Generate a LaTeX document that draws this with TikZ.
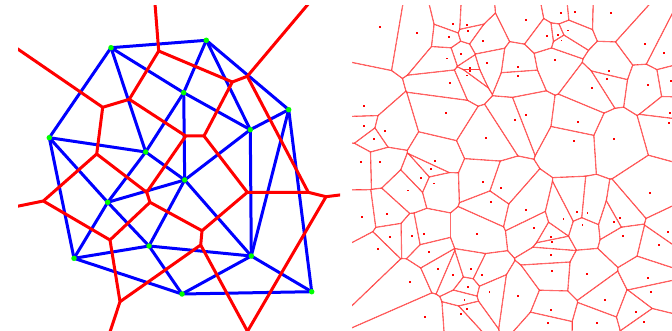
\documentclass[tikz,border=0pt]{standalone}
\usepackage{tikz}

\tikzset{
  delaunay/.style={blue, line width=3pt, line cap=round},
  voronoi/.style={red, line width=3pt, line cap=round, line join=round},
  site/.style={circle, fill=green, inner sep=0pt, minimum size=5.5pt},
  cell/.style={red!75, line width=1.1pt}
}
% seeds of the right diagram (pixel coordinates)
\def\seeds{380/26.7, 417/33, 453.3/24, 466.7/24.7, 468/30.7, 448.7/36.7, 482.7/41.3, 460.7/54, 447.3/58.5, 487/63,
  470/68.2, 470/71, 466.7/75.5, 450/82.7, 525.7/20, 517.7/67.3, 518.3/75.7, 561/13.2, 575.2/11.8, 610.7/12.7,
  547.3/36.2, 558/34.8, 567.7/30.5, 561.5/40.5, 554.7/60, 645/43.7, 663.7/53.3, 608.7/70.7, 606.7/79, 592/88.3,
  647.7/84.7, 670.7/80.7, 363.7/106.3, 364.3/125.7, 385.3/131, 374/138.7, 361.2/162.2, 380.3/161.7, 446/112.7, 514.7/119.7,
  526/115.3, 486.3/138, 578/122, 574/141.3, 614.3/138.7, 670/112.7, 668.7/123.3, 434.7/161, 431/169,
  421.2/177.8, 434.2/183.5, 408/190.5, 483.3/182, 500.7/188, 491/202, 386.7/214, 361.7/217.3, 390.3/236.7, 412.3/236.3,
  424.3/234, 476.7/234, 525.7/210, 534.3/227.7, 550.7/237.3, 551.7/242.2, 563.5/219, 577/212, 587.5/213, 582.5/225,
  649.7/193, 620.3/218.3, 614.3/221.7, 622.7/236, 668/231.7, 659/244.7, 378.3/249, 428.7/252.3, 550.7/255, 438.3/269,
  452.7/275.2, 471/269.3, 482/274.7, 409.7/281.7, 467.8/286.8, 489.5/292.3, 517.7/296.3, 551.7/271.3, 586.7/274, 648/278.3,
  651/292.3, 464.5/299.8, 466.7/308.8, 460.8/314.2, 425/316.7, 550.7/309.7, 605.3/299.7, 636.3/311.7, 643.7/322.3, 547.7/323,
  596.7/322.7}

\begin{document}
\begin{tikzpicture}[x=1pt,y=-1pt]
  \useasboundingbox (0,0) rectangle (672,331);

  % left: sites
  \coordinate (A) at (111,47.7); \coordinate (B) at (206.3,40.3); \coordinate (C) at (183.7,92.7); \coordinate (D) at (288.7,109.7);
  \coordinate (E) at (250.3,129.7); \coordinate (F) at (49.3,137.7); \coordinate (G) at (145.7,152); \coordinate (H) at (184.7,180);
  \coordinate (I) at (107.7,202.3); \coordinate (J) at (149,246); \coordinate (K) at (74,258.3); \coordinate (L) at (251.3,256);
  \coordinate (M) at (182,294); \coordinate (N) at (311.7,291.7);
  % left: vertices of the cells
  \coordinate (v1) at (158.7,51); \coordinate (v2) at (232.3,82); \coordinate (v3) at (247.3,76.3); \coordinate (v4) at (204,136);
  \coordinate (v5) at (185.7,136); \coordinate (v6) at (247.3,192.3); \coordinate (v7) at (146.7,192.3); \coordinate (v8) at (308.3,192.3);
  \coordinate (v9) at (202,230.7); \coordinate (v10) at (326,196.7); \coordinate (v11) at (150,202.3); \coordinate (v12) at (96.7,154);
  \coordinate (v13) at (110,240); \coordinate (v14) at (200.7,245); \coordinate (v15) at (120,301.7); \coordinate (v16) at (102.7,107.3);
  \coordinate (v17) at (43.3,201); \coordinate (v18) at (129.3,99.3); \coordinate (vb) at (247.5,331.3);
  \coordinate (r1) at (154.7,0); \coordinate (r3) at (311.6,0); \coordinate (r10) at (346,194.2); \coordinate (rb) at (247.7,340);
  \coordinate (r15) at (107.3,340); \coordinate (r17) at (10,207.8); \coordinate (r16) at (10,43.7);

  \begin{scope}
    \clip (18,6) rectangle (340,331);
    \draw[delaunay] (A) -- (B); \draw[delaunay] (A) -- (C); \draw[delaunay] (A) -- (F); \draw[delaunay] (A) -- (G);
    \draw[delaunay] (B) -- (C); \draw[delaunay] (B) -- (D); \draw[delaunay] (B) -- (E); \draw[delaunay] (C) -- (E);
    \draw[delaunay] (C) -- (G); \draw[delaunay] (C) -- (H); \draw[delaunay] (D) -- (E); \draw[delaunay] (D) -- (L);
    \draw[delaunay] (D) -- (N); \draw[delaunay] (E) -- (H); \draw[delaunay] (E) -- (L); \draw[delaunay] (F) -- (G);
    \draw[delaunay] (F) -- (I); \draw[delaunay] (F) -- (K); \draw[delaunay] (G) -- (H); \draw[delaunay] (G) -- (I);
    \draw[delaunay] (H) -- (I); \draw[delaunay] (H) -- (J); \draw[delaunay] (H) -- (L); \draw[delaunay] (I) -- (J);
    \draw[delaunay] (I) -- (K); \draw[delaunay] (J) -- (K); \draw[delaunay] (J) -- (L); \draw[delaunay] (J) -- (M);
    \draw[delaunay] (K) -- (M); \draw[delaunay] (L) -- (M); \draw[delaunay] (L) -- (N); \draw[delaunay] (M) -- (N);

    \draw[voronoi] (r1) -- (v1) -- (v18) -- (v16) -- (r16); \draw[voronoi] (v1) -- (v2) -- (v3) -- (r3);
    \draw[voronoi] (v2) -- (v4) -- (v5) -- (v18); \draw[voronoi] (v3) -- (v8) -- (v10) -- (r10);
    \draw[voronoi] (v4) -- (v6) -- (v8); \draw[voronoi] (v10) -- (vb) -- (rb);
    \draw[voronoi] (v5) -- (v7) -- (v12) -- (v17) -- (r17); \draw[voronoi] (v7) -- (v11) -- (v9) -- (v6);
    \draw[voronoi] (v9) -- (v14) -- (vb); \draw[voronoi] (v11) -- (v13) -- (v15) -- (r15);
    \draw[voronoi] (v14) -- (v15); \draw[voronoi] (v12) -- (v16); \draw[voronoi] (v13) -- (v17);
  \end{scope}
  \foreach \s in {A,B,C,D,E,F,G,H,I,J,K,L,M,N} \node[site] (dot\s) at (\s) {};

  % right: every cell clipped by its half planes, border drawn inside
  \begin{scope}
    \clip (352,6) rectangle (672,331);
    \foreach \xa/\ya in \seeds {
      \begin{scope}
        \foreach \xb/\yb in \seeds {
          \pgfmathsetmacro\dd{veclen(\xb-\xa,\yb-\ya)}
          \ifdim\dd pt>0.01pt\ifdim\dd pt<100pt
            \pgfmathsetmacro\ux{(\xa-\xb)/\dd} \pgfmathsetmacro\uy{(\ya-\yb)/\dd}
            \pgfmathsetmacro\mx{(\xa+\xb)/2} \pgfmathsetmacro\my{(\ya+\yb)/2}
            \clip (\mx-300*\uy,\my+300*\ux) -- ++(300*\ux,300*\uy) -- ++(600*\uy,-600*\ux) -- (\mx+300*\uy,\my-300*\ux) -- cycle;
          \fi\fi
        }
        \foreach \xb/\yb in \seeds {
          \pgfmathsetmacro\dd{veclen(\xb-\xa,\yb-\ya)}
          \ifdim\dd pt>0.01pt\ifdim\dd pt<100pt
            \pgfmathsetmacro\ux{(\xa-\xb)/\dd} \pgfmathsetmacro\uy{(\ya-\yb)/\dd}
            \pgfmathsetmacro\mx{(\xa+\xb)/2} \pgfmathsetmacro\my{(\ya+\yb)/2}
            \draw[cell] (\mx-300*\uy,\my+300*\ux) -- (\mx+300*\uy,\my-300*\ux);
          \fi\fi
        }
      \end{scope}
    }
  \end{scope}
  \foreach \xa/\ya in \seeds \fill[red] (\xa-0.9,\ya-0.9) rectangle ++(1.8,1.8);
\end{tikzpicture}
\end{document}
